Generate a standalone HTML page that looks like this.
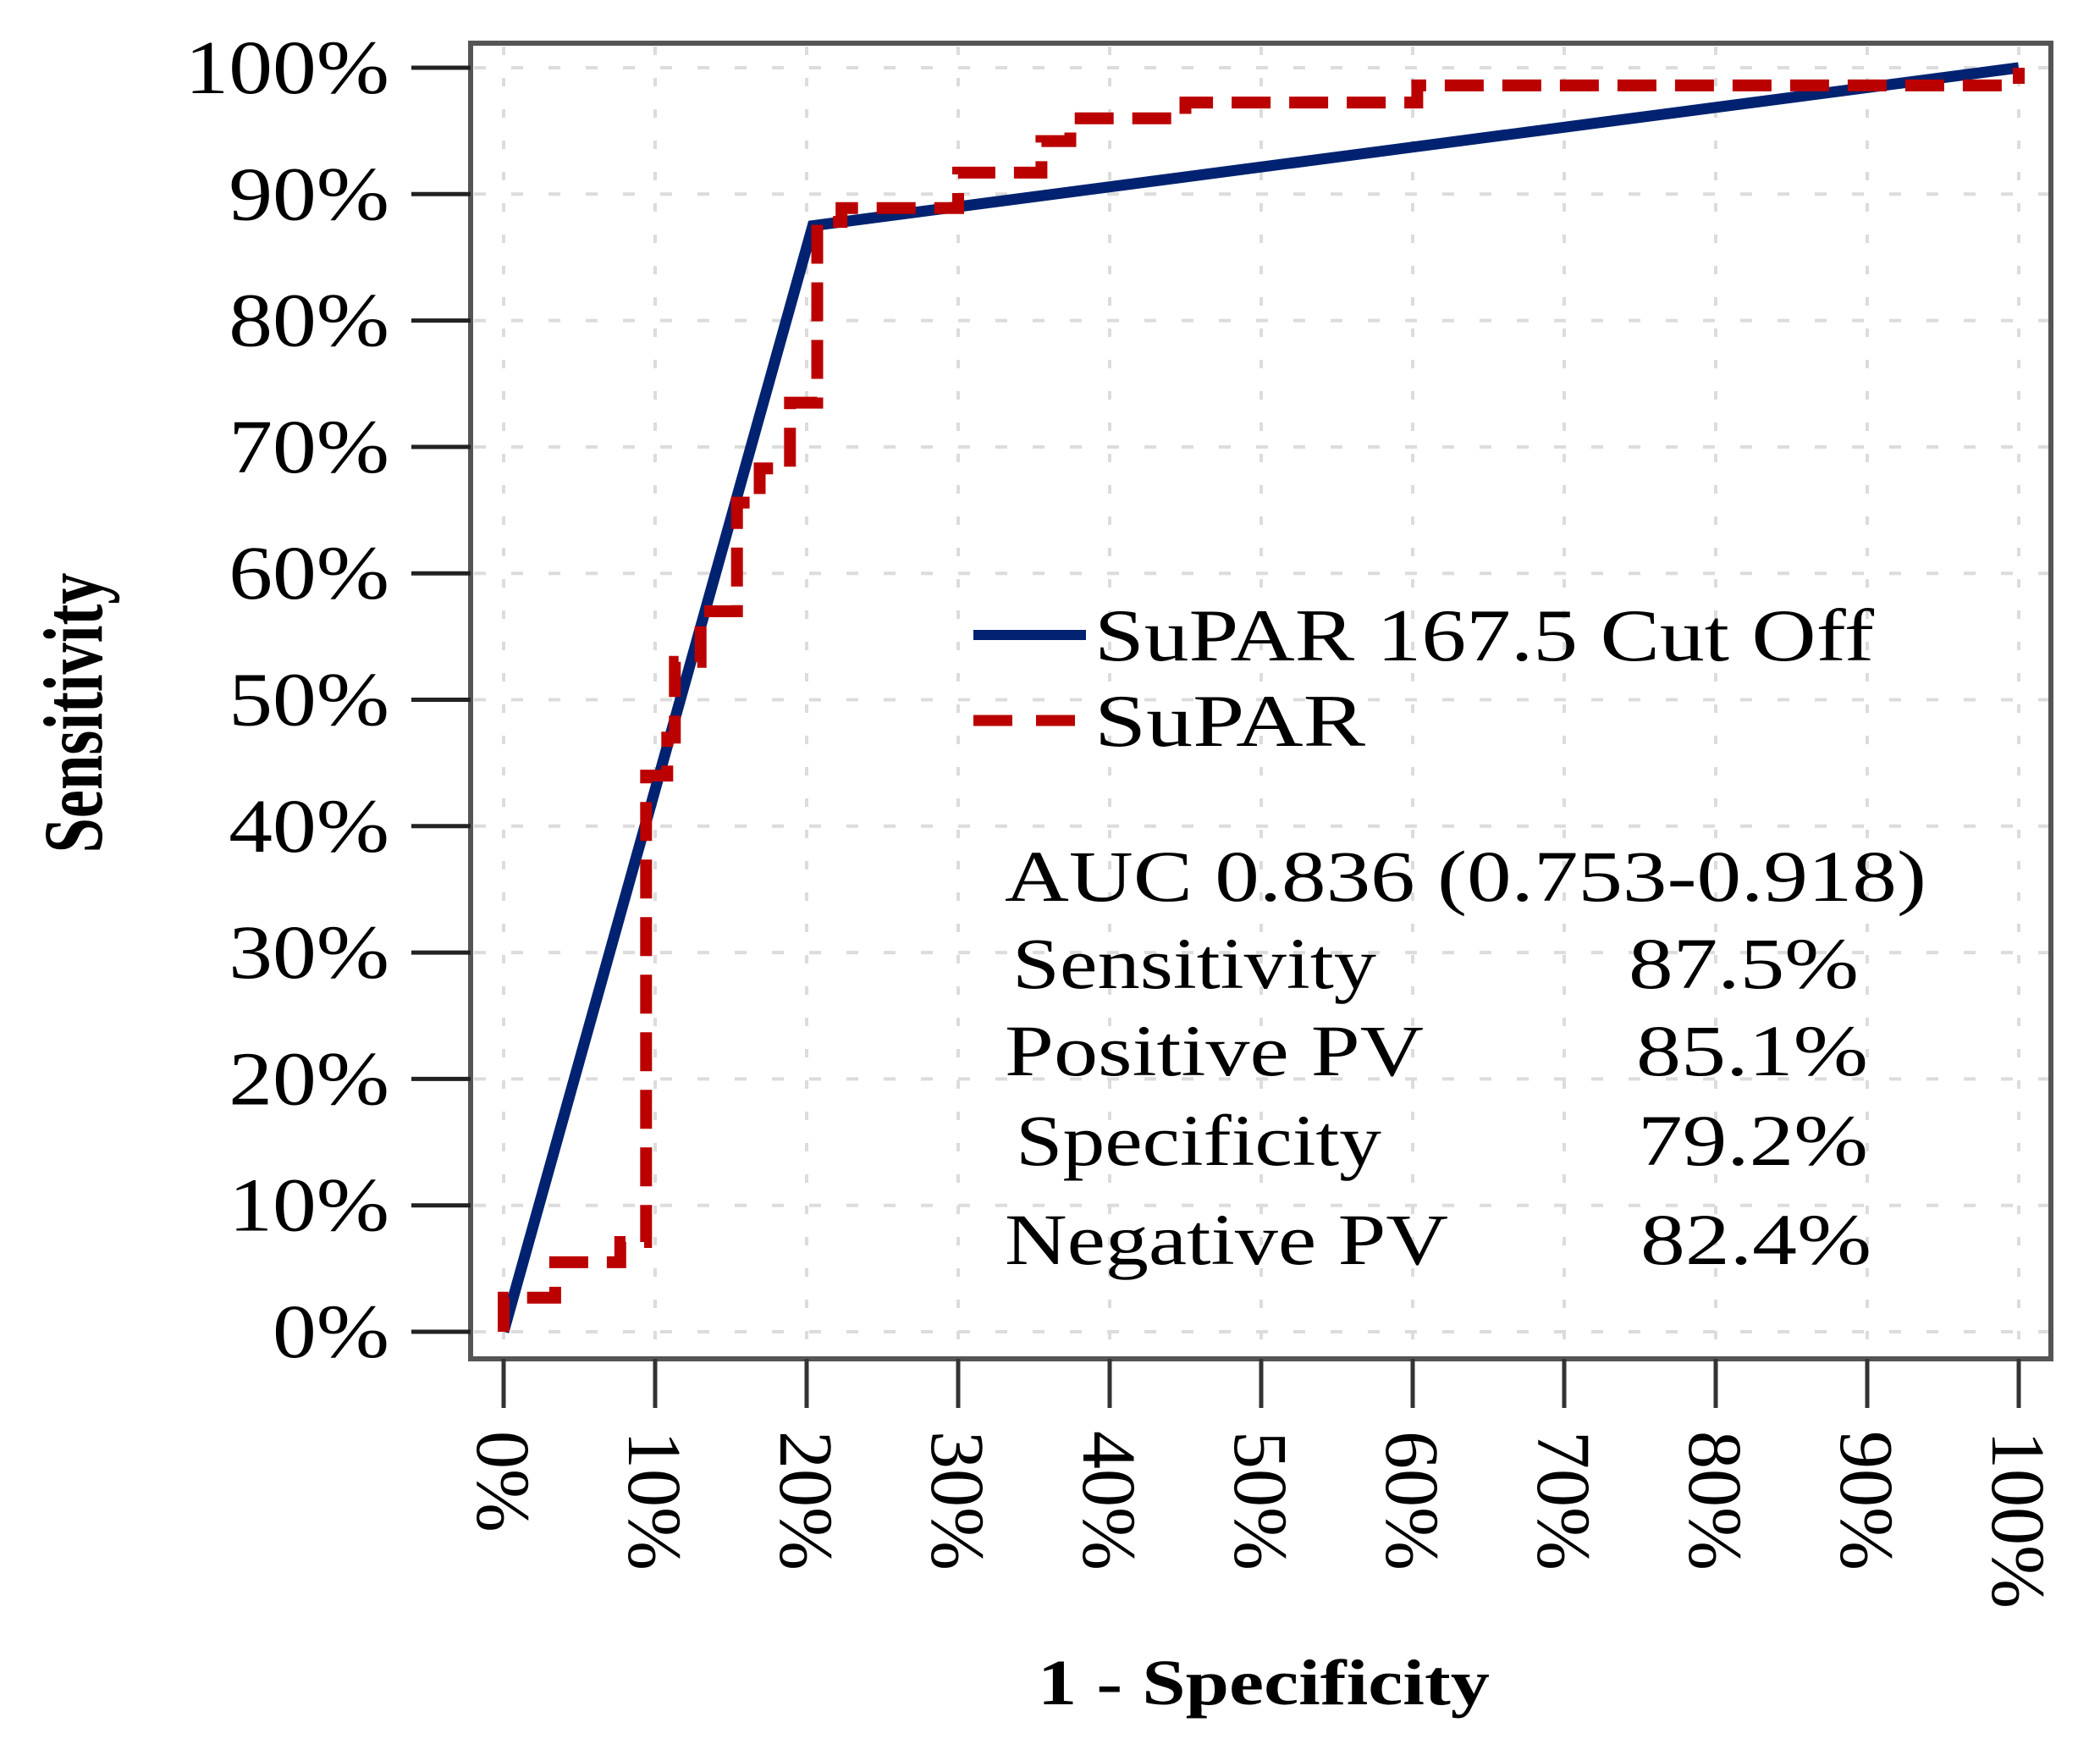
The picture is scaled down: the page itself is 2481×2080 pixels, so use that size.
<!DOCTYPE html>
<html><head><meta charset="utf-8"><style>
html,body{margin:0;padding:0;background:#fff;}
svg{display:block;}
text{font-family:"Liberation Serif",serif;fill:#000;}
</style></head><body>
<svg id="chart" width="2481" height="2080" viewBox="0 0 2481 2080" xmlns="http://www.w3.org/2000/svg">
<g id="grid"></g>
<g id="series"></g>
<rect x="556" y="51" width="1867" height="1554" fill="none" stroke="#555" stroke-width="6"/>
<g id="axes"></g>
<g>
  <line x1="1150" y1="750" x2="1283" y2="750" stroke="#002270" stroke-width="12"/>
  <text x="1293" y="780" font-size="88" textLength="921" lengthAdjust="spacingAndGlyphs">SuPAR 167.5 Cut Off</text>
  <line x1="1150" y1="851" x2="1283" y2="851" stroke="#bb0000" stroke-width="13" stroke-dasharray="46 28"/>
  <text x="1293" y="881" font-size="88" textLength="320" lengthAdjust="spacingAndGlyphs">SuPAR</text>
</g>
<g font-size="86">
  <text x="1187" y="1064" textLength="1089" lengthAdjust="spacingAndGlyphs">AUC 0.836 (0.753-0.918)</text>
  <text x="1196" y="1167" textLength="430" lengthAdjust="spacingAndGlyphs">Sensitivity</text>
  <text x="1924" y="1167" textLength="272" lengthAdjust="spacingAndGlyphs">87.5%</text>
  <text x="1187" y="1270" textLength="495" lengthAdjust="spacingAndGlyphs">Positive PV</text>
  <text x="1933" y="1270" textLength="274" lengthAdjust="spacingAndGlyphs">85.1%</text>
  <text x="1200" y="1376" textLength="432" lengthAdjust="spacingAndGlyphs">Specificity</text>
  <text x="1935" y="1376" textLength="272" lengthAdjust="spacingAndGlyphs">79.2%</text>
  <text x="1187" y="1493" textLength="524" lengthAdjust="spacingAndGlyphs">Negative PV</text>
  <text x="1938" y="1493" textLength="273" lengthAdjust="spacingAndGlyphs">82.4%</text>
</g>
<text transform="translate(120,842) rotate(-90)" text-anchor="middle" font-size="100" font-weight="bold" textLength="331" lengthAdjust="spacingAndGlyphs">Sensitivity</text>
<text x="1226" y="2013" font-size="76" font-weight="bold" textLength="534" lengthAdjust="spacingAndGlyphs">1 - Specificity</text>
</svg>
<script>
const xTicks = [0,0.1,0.2,0.3,0.4,0.5,0.6,0.7,0.8,0.9,1];
const yTicks = [0,0.1,0.2,0.3,0.4,0.5,0.6,0.7,0.8,0.9,1];
const xTickLabels = ["0%","10%","20%","30%","40%","50%","60%","70%","80%","90%","100%"];
const yTickLabels = ["0%","10%","20%","30%","40%","50%","60%","70%","80%","90%","100%"];
const cutoffFpr = [0,0.204,1];
const cutoffTpr = [0,0.875,1];
const suparFpr = [0,0,0.034,0.034,0.077,0.077,0.094,0.094,0.108,0.108,0.113,0.113,0.13,0.13,0.154,0.154,0.169,0.169,0.189,0.189,0.207,0.207,0.223,0.223,0.3,0.3,0.355,0.355,0.374,0.374,0.45,0.45,0.603,0.603,1,1];
const suparTpr = [0,0.027,0.027,0.055,0.055,0.071,0.071,0.44,0.44,0.47,0.47,0.53,0.53,0.57,0.57,0.656,0.656,0.683,0.683,0.735,0.735,0.878,0.878,0.889,0.889,0.917,0.917,0.942,0.942,0.96,0.96,0.9725,0.9725,0.986,0.986,1];

const NS="http://www.w3.org/2000/svg";
const X0=595,X1=2385,Y0=1573,Y1=80;
function sx(v){return X0+(X1-X0)*v;}
function sy(v){return Y0-(Y0-Y1)*v;}
function mk(tag,attrs,parent){const e=document.createElementNS(NS,tag);for(const k in attrs)e.setAttribute(k,attrs[k]);parent.appendChild(e);return e;}
const grid=document.getElementById('grid'), axes=document.getElementById('axes'), series=document.getElementById('series');

xTicks.forEach((v,i)=>{
  const g=mk('line',{x1:sx(v),y1:55,x2:sx(v),y2:1600,stroke:'#dcdcdc','stroke-width':4,'stroke-dasharray':'10 27'},grid);
  
  
  const t=mk('line',{x1:sx(v),y1:1605,x2:sx(v),y2:1663,stroke:'#333','stroke-width':5},axes);
  
  
  const lb=mk('text',{transform:'translate('+(sx(v)-31)+',1690) rotate(90)','font-size':90},axes);
  lb.textContent=xTickLabels[i];
  
  
});
yTicks.forEach((v,i)=>{
  const g=mk('line',{x1:560,y1:sy(v),x2:2420,y2:sy(v),stroke:'#dcdcdc','stroke-width':4,'stroke-dasharray':'14 30'},grid);
  
  
  const t=mk('line',{x1:486,y1:sy(v),x2:556,y2:sy(v),stroke:'#222','stroke-width':5},axes);
  
  
  const lb=mk('text',{x:(460/1.15),y:sy(v)+30,'text-anchor':'end','font-size':90,transform:'scale(1.15,1)'},axes);
  lb.textContent=yTickLabels[i];
  
  
});
function pts(xs,ys){return xs.map((x,i)=>sx(x).toFixed(1)+','+sy(ys[i]).toFixed(1)).join(' ');}
const cut=mk('polyline',{points:pts(cutoffFpr,cutoffTpr),fill:'none',stroke:'#002270','stroke-width':13,'stroke-linejoin':'miter'},series);


const sup=mk('polyline',{points:pts(suparFpr,suparTpr),fill:'none',stroke:'#bb0000','stroke-width':14,'stroke-dasharray':'46 22'},series);


</script>
</body></html>
